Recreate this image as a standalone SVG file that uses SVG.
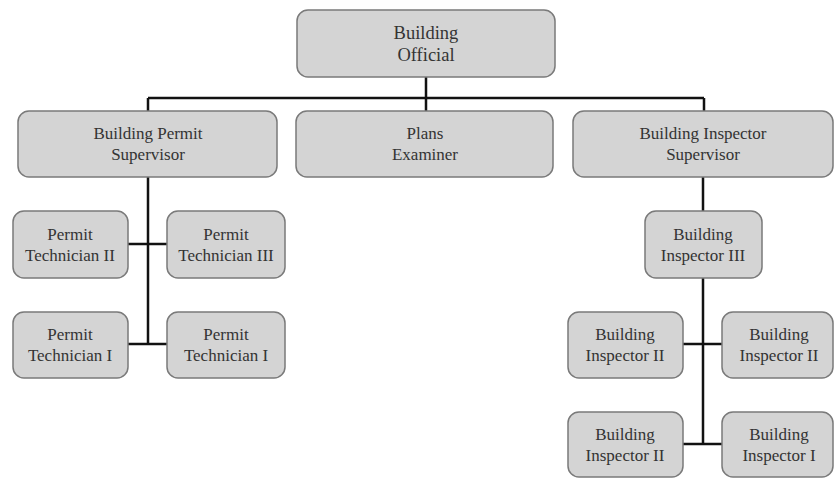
<svg xmlns="http://www.w3.org/2000/svg" width="835" height="478" viewBox="0 0 835 478">
<style>
.box{fill:#d4d4d4;stroke:#7a7a7a;stroke-width:1.5}
.t{font-family:"Liberation Serif","Times New Roman",serif;font-size:17px;fill:#333;text-anchor:middle}
.big{font-size:18.5px}
.ln{stroke:#111;stroke-width:2.5;fill:none}
</style>
<rect width="835" height="478" fill="#fff"/>
<g id="connectors">
<path class="ln" d="M426 77V111M148 98H704M148 98V111M704 98V111"/>
<path class="ln" d="M148 177V345M128 244H167M128 344H167"/>
<path class="ln" d="M703 177V211M703 278V445M683 344H722M683 444H722"/>
</g>
<g id="official"><rect class="box" x="297" y="10" width="258" height="67" rx="11"/><text class="t big" x="426" y="39">Building</text><text class="t big" x="426" y="61">Official</text></g>
<g id="permit-supervisor"><rect class="box" x="18" y="111" width="259" height="66" rx="11"/><text class="t" x="148" y="139">Building Permit</text><text class="t" x="148" y="160">Supervisor</text></g>
<g id="plans-examiner"><rect class="box" x="296" y="111" width="257" height="66" rx="11"/><text class="t" x="425" y="139">Plans</text><text class="t" x="425" y="160">Examiner</text></g>
<g id="inspector-supervisor"><rect class="box" x="573" y="111" width="260" height="66" rx="11"/><text class="t" x="703" y="139">Building Inspector</text><text class="t" x="703" y="160">Supervisor</text></g>
<g id="tech2"><rect class="box" x="13" y="211" width="115" height="67" rx="11"/><text class="t" x="70" y="240">Permit</text><text class="t" x="70" y="261">Technician II</text></g>
<g id="tech3"><rect class="box" x="167" y="211" width="118" height="67" rx="11"/><text class="t" x="226" y="240">Permit</text><text class="t" x="226" y="261">Technician III</text></g>
<g id="tech1a"><rect class="box" x="13" y="312" width="115" height="66" rx="11"/><text class="t" x="70" y="340">Permit</text><text class="t" x="70" y="361">Technician I</text></g>
<g id="tech1b"><rect class="box" x="167" y="312" width="118" height="66" rx="11"/><text class="t" x="226" y="340">Permit</text><text class="t" x="226" y="361">Technician I</text></g>
<g id="insp3"><rect class="box" x="645" y="211" width="117" height="67" rx="11"/><text class="t" x="703" y="240">Building</text><text class="t" x="703" y="261">Inspector III</text></g>
<g id="insp2a"><rect class="box" x="568" y="312" width="115" height="66" rx="11"/><text class="t" x="625" y="340">Building</text><text class="t" x="625" y="361">Inspector II</text></g>
<g id="insp2b"><rect class="box" x="722" y="312" width="111" height="66" rx="11"/><text class="t" x="779" y="340">Building</text><text class="t" x="779" y="361">Inspector II</text></g>
<g id="insp2c"><rect class="box" x="568" y="412" width="115" height="65" rx="11"/><text class="t" x="625" y="440">Building</text><text class="t" x="625" y="461">Inspector II</text></g>
<g id="insp1"><rect class="box" x="722" y="412" width="111" height="65" rx="11"/><text class="t" x="779" y="440">Building</text><text class="t" x="779" y="461">Inspector I</text></g>
</svg>
